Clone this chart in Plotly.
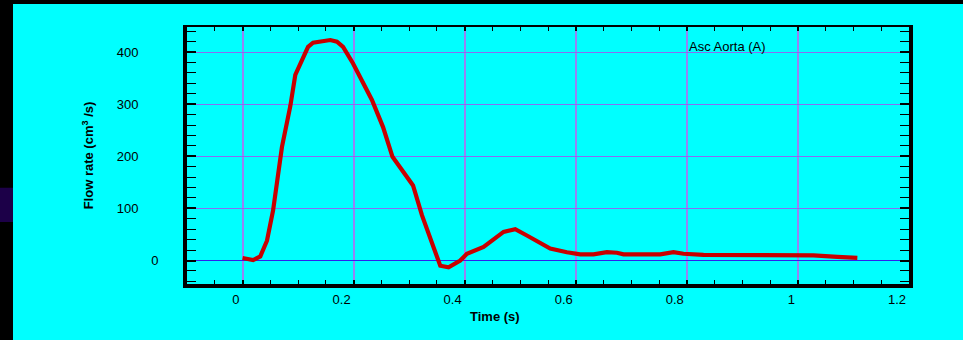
import plotly.graph_objects as go

# ---- data ----
time_s = [0.000, 0.019, 0.032, 0.044, 0.055, 0.071, 0.086, 0.095, 0.118, 0.127,
          0.158, 0.170, 0.181, 0.188, 0.199, 0.233, 0.242, 0.253, 0.270, 0.307,
          0.323, 0.356, 0.371, 0.392, 0.404, 0.434, 0.470, 0.491, 0.512, 0.536,
          0.554, 0.584, 0.608, 0.632, 0.656, 0.674, 0.686, 0.752, 0.776, 0.794,
          0.830, 1.028, 1.059, 1.071, 1.107]
flow_cm3s = [5, 1, 8, 38, 96, 218, 296, 356, 410, 418,
             423, 420, 410, 397, 378, 308, 283, 256, 199, 144,
             87, -10, -13, 0, 13, 26, 55, 60, 48, 33,
             23, 16, 12, 12, 16, 15, 12, 12, 16, 13,
             11, 10, 9, 7, 5]

x_tick_vals = [0, 0.2, 0.4, 0.6, 0.8, 1.0, 1.2]
x_tick_text = ["0", "0.2", "0.4", "0.6", "0.8", "1", "1.2"]
y_tick_vals = [100, 200, 300, 400]
y_tick_text = ["100", "200", "300", "400"]
y_zero_vals = [0]
y_zero_text = ["0"]
series_label = "Asc Aorta (A)"
x_title = "Time (s)"
y_title = "Flow rate (cm<sup>3</sup> /s)"

x_range = [-0.1, 1.2]
y_range = [-45, 448]

FONT = "Liberation Sans, Arial, sans-serif"
BG = "#00ffff"

fig = go.Figure()
fig.add_trace(go.Scatter(x=time_s, y=flow_cm3s, mode="lines",
                         line=dict(color="#c80000", width=4.2),
                         showlegend=False, hoverinfo="skip"))
# helper traces so the overlay axes (top frame, zero label) are drawn
fig.add_trace(go.Scatter(x=[None], y=[None], xaxis="x2", yaxis="y", mode="lines",
                         showlegend=False, hoverinfo="skip"))
fig.add_trace(go.Scatter(x=[None], y=[None], xaxis="x", yaxis="y2", mode="lines",
                         showlegend=False, hoverinfo="skip"))

tickfont = dict(family=FONT, size=13, color="black")
minor_x = dict(dtick=0.05, tick0=0, ticks="inside", ticklen=4, tickwidth=1,
               tickcolor="black", showgrid=False)
minor_y = dict(dtick=20, tick0=0, ticks="inside", ticklen=4, tickwidth=1,
               tickcolor="black", showgrid=False)

fig.update_layout(
    width=963, height=340,
    margin=dict(l=187, r=54, t=27, b=56),
    paper_bgcolor=BG, plot_bgcolor=BG,
    font=dict(family=FONT, size=13, color="black"),
    xaxis=dict(
        range=x_range, tickmode="array", tickvals=x_tick_vals, ticktext=x_tick_text,
        ticks="inside", ticklen=4, tickwidth=2, tickcolor="black", minor=minor_x,
        showline=True, linewidth=4, linecolor="black", mirror=False,
        showgrid=True, gridcolor="#9882f4", gridwidth=2, zeroline=False,
        ticklabelposition="outside left", tickfont=tickfont,
    ),
    xaxis2=dict(
        range=x_range, overlaying="x", side="top", anchor="y",
        tickmode="array", tickvals=x_tick_vals, showticklabels=False,
        ticks="inside", ticklen=4, tickwidth=2, tickcolor="black", minor=minor_x,
        showline=True, linewidth=2, linecolor="black",
        showgrid=False, zeroline=False,
    ),
    yaxis=dict(
        range=y_range, tickmode="array", tickvals=y_tick_vals, ticktext=y_tick_text,
        ticks="inside", ticklen=9, tickwidth=1.5, tickcolor="black", minor=minor_y,
        showline=True, linewidth=4, linecolor="black", mirror="allticks",
        showgrid=True, gridcolor="#8a6cf2", gridwidth=1,
        zeroline=True, zerolinecolor="#3020ee", zerolinewidth=1,
        ticklabelstandoff=42, tickfont=tickfont,
        title=dict(text=y_title, standoff=21,
                   font=dict(family=FONT, size=13, color="black", weight="bold")),
    ),
    yaxis2=dict(
        range=y_range, overlaying="y", side="left", anchor="x",
        tickmode="array", tickvals=y_zero_vals, ticktext=y_zero_text,
        ticks="inside", ticklen=9, tickwidth=1.5, tickcolor="black",
        showline=True, linewidth=4, linecolor="black", mirror="allticks",
        showgrid=False, zeroline=False,
        ticklabelstandoff=22, tickfont=tickfont,
    ),
    annotations=[
        dict(x=0.8, y=410, xref="x", yref="y", text=series_label, showarrow=False,
             xanchor="left", yanchor="middle", font=dict(family=FONT, size=13, color="black")),
        dict(x=0.4266, y=0, xref="paper", yref="paper", yshift=-32, text=x_title,
             showarrow=False, xanchor="center", yanchor="middle",
             font=dict(family=FONT, size=13, color="black", weight="bold")),
    ],
    shapes=[
        dict(type="rect", xref="paper", yref="paper", x0=-0.3, x1=1.1, y0=1.0897, y1=1.2,
             fillcolor="black", line=dict(width=0), layer="above"),
        dict(type="rect", xref="paper", yref="paper", x0=-0.3, x1=-0.241, y0=-0.3, y1=1.2,
             fillcolor="black", line=dict(width=0), layer="above"),
        dict(type="rect", xref="paper", yref="paper", x0=-0.3, x1=-0.241, y0=0.241, y1=0.375,
             fillcolor="#1c0048", line=dict(width=0), layer="above"),
    ],
)

fig.write_html(
    "out.html",
    config={"displayModeBar": False},
    post_script="document.body.style.margin='0';document.body.style.overflow='hidden';",
)
